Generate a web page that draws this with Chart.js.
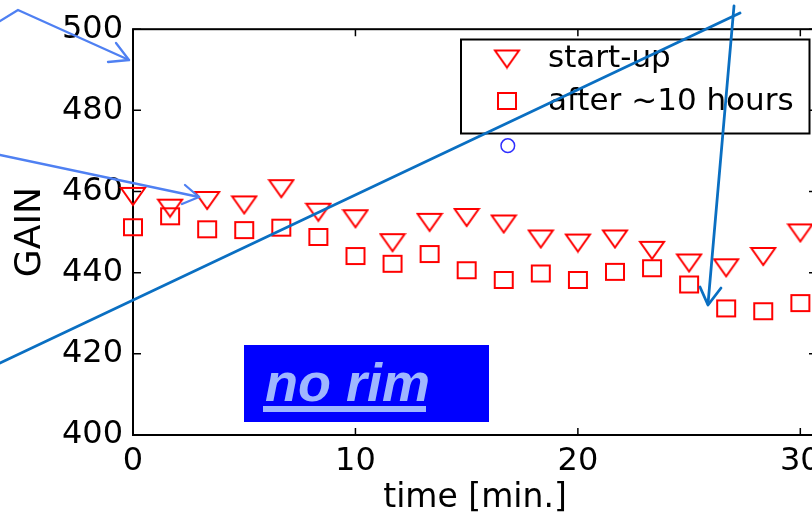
<!DOCTYPE html>
<html><head><meta charset="utf-8">
<script src="https://cdn.jsdelivr.net/npm/chart.js@4.4.1/dist/chart.umd.min.js"></script>
<style>
html,body{margin:0;padding:0;background:#fff;overflow:hidden;width:812px;height:515px;}
#wrap{position:relative;width:812px;height:515px;overflow:hidden;}
#c{position:absolute;left:0;top:0;}
#norim{position:absolute;left:244px;top:345px;width:245px;height:77px;background:#0000ff;}
#norim span{position:absolute;left:21px;top:10px;font:italic bold 54px "Liberation Sans",Arial,sans-serif;line-height:54px;color:#9fb6ff;white-space:nowrap;}
#norim i{position:absolute;left:19px;top:61px;width:163px;height:6px;background:#9fb6ff;}
</style>
</head><body>
<div id="wrap">
<canvas id="c" width="840" height="515"></canvas>
<div id="norim"><span>no rim</span><i></i></div>
</div>
<script>
// ---- data ----
const times     = [0, 1.667, 3.333, 5, 6.667, 8.333, 10, 11.667, 13.333, 15, 16.667, 18.333, 20, 21.667, 23.333, 25, 26.667, 28.333, 30];
const startUp   = [458.8, 455.9, 457.8, 456.7, 460.7, 454.9, 453.3, 447.4, 452.4, 453.6, 452.0, 448.3, 447.3, 448.3, 445.5, 442.4, 441.2, 444.0, 449.8];
const after10h  = [451.2, 453.9, 450.7, 450.5, 451.1, 448.8, 444.1, 442.2, 444.6, 440.6, 438.2, 439.8, 438.2, 440.2, 441.1, 437.1, 431.2, 430.5, 432.5];
const outlierX  = [16.85];
const outlierY  = [471.3];
const xTicks    = [0, 10, 20, 30];
const yTicks    = [400, 420, 440, 460, 480, 500];
const seriesLabels = ['start-up', 'after ~10 hours'];

// ---- marker sprites ----
function triSprite(w, h, color) {
  const c = document.createElement('canvas'); c.width = w + 4; c.height = h + 4;
  const g = c.getContext('2d'); g.strokeStyle = color; g.lineWidth = 2;
  g.beginPath(); g.moveTo(2, 2); g.lineTo(w + 2, 2); g.lineTo(w / 2 + 2, h + 2); g.closePath(); g.stroke();
  return c;
}
function sqSprite(w, h, color) {
  const c = document.createElement('canvas'); c.width = w + 4; c.height = h + 4;
  const g = c.getContext('2d'); g.strokeStyle = color; g.lineWidth = 2;
  g.strokeRect(2, 2, w, h);
  return c;
}
const TRI = triSprite(24, 17, '#ff0000');
const SQ = sqSprite(18, 16, '#ff0000');

const FONT = 'DejaVu Sans';

const framePlugin = {
  id: 'frame',
  beforeDatasetsDraw(chart) {
    const {ctx, chartArea: a, scales} = chart;
    ctx.save();
    ctx.strokeStyle = '#000'; ctx.lineWidth = 2;
    ctx.strokeRect(a.left, a.top, a.right - a.left, a.bottom - a.top);
    ctx.lineWidth = 1.5;
    ctx.beginPath();
    xTicks.forEach(v => {
      const px = scales.x.getPixelForValue(v);
      ctx.moveTo(px, a.bottom); ctx.lineTo(px, a.bottom - 7);
      ctx.moveTo(px, a.top); ctx.lineTo(px, a.top + 7);
    });
    yTicks.forEach(v => {
      const py = scales.y.getPixelForValue(v);
      ctx.moveTo(a.left, py); ctx.lineTo(a.left + 8, py);
      ctx.moveTo(a.right, py); ctx.lineTo(a.right - 8, py);
    });
    ctx.stroke();
    ctx.restore();
  },
  afterDraw(chart) {
    const ctx = chart.ctx;
    ctx.save();
    // legend box
    ctx.fillStyle = '#fff'; ctx.strokeStyle = '#000'; ctx.lineWidth = 2;
    ctx.fillRect(461, 39.5, 348.5, 94);
    ctx.strokeRect(461, 39.5, 348.5, 94);
    const imgs = [TRI, SQ], ys = [59, 101];
    ctx.fillStyle = '#000'; ctx.font = '31px "' + FONT + '"'; ctx.textBaseline = 'middle'; ctx.textAlign = 'left';
    seriesLabels.forEach((lab, i) => {
      const im = imgs[i];
      ctx.drawImage(im, 507 - im.width / 2, ys[i] - im.height / 2);
      ctx.fillText(lab, 548, ys[i] + (i === 0 ? 0 : 1));
    });
    // annotation arrows
    ctx.lineCap = 'round'; ctx.lineJoin = 'round';
    function path(pts, color, w) {
      ctx.strokeStyle = color; ctx.lineWidth = w; ctx.beginPath();
      ctx.moveTo(pts[0][0], pts[0][1]);
      for (let k = 1; k < pts.length; k++) ctx.lineTo(pts[k][0], pts[k][1]);
      ctx.stroke();
    }
    const light = '#4f80f2', dark = '#0a6fc2';
    path([[0, 21], [18, 10], [129, 60]], light, 2.3);
    path([[116, 43], [129, 60], [108, 62]], light, 2.3);
    path([[0, 155], [199, 197]], light, 2.3);
    path([[185, 185], [199, 197], [182, 204]], light, 2.3);
    path([[0, 363], [740, 13]], dark, 2.8);
    path([[734, 6], [708, 304]], dark, 2.8);
    path([[700, 287], [708, 305], [721, 288]], dark, 2.8);
    ctx.restore();
  }
};

new Chart(document.getElementById('c'), {
  type: 'scatter',
  data: {
    datasets: [
      { label: seriesLabels[0], data: times.map((t, i) => ({x: t, y: startUp[i]})), pointStyle: TRI, pointRadius: 12, clip: false },
      { label: seriesLabels[1], data: times.map((t, i) => ({x: t, y: after10h[i]})), pointStyle: SQ, pointRadius: 9, clip: false },
      { label: '', data: outlierX.map((t, i) => ({x: t, y: outlierY[i]})), pointStyle: 'circle', pointRadius: 6.8,
        borderColor: '#2f2fff', borderWidth: 1.5, backgroundColor: 'rgba(0,0,0,0)', clip: false }
    ]
  },
  options: {
    responsive: false, animation: false, devicePixelRatio: 1,
    layout: { padding: { left: 0, top: 27, right: 23, bottom: 0 } },
    plugins: { legend: { display: false }, tooltip: { enabled: false } },
    scales: {
      x: {
        type: 'linear', min: 0, max: 30.75,
        afterBuildTicks: s => { s.ticks = xTicks.map(v => ({value: v})); },
        afterFit: s => { s.height = 80; },
        grid: { display: false, drawTicks: false }, border: { display: false },
        ticks: { font: { family: FONT, size: 32 }, color: '#000', padding: 7, maxRotation: 0, autoSkip: false },
        title: { display: true, text: 'time [min.]', color: '#000', font: { family: FONT, size: 33, lineHeight: 1 }, padding: { top: 0, bottom: 0 } }
      },
      y: {
        type: 'linear', min: 400, max: 500,
        afterBuildTicks: s => { s.ticks = yTicks.map(v => ({value: v})); },
        afterFit: s => { s.width = 133; },
        grid: { display: false, drawTicks: false }, border: { display: false },
        ticks: { font: { family: FONT, size: 32 }, color: '#000', padding: 10, autoSkip: false },
        title: { display: true, text: 'GAIN', color: '#000', font: { family: FONT, size: 36, lineHeight: 1 }, padding: { top: 13, bottom: 0 } }
      }
    }
  },
  plugins: [framePlugin]
});
</script>
</body></html>
